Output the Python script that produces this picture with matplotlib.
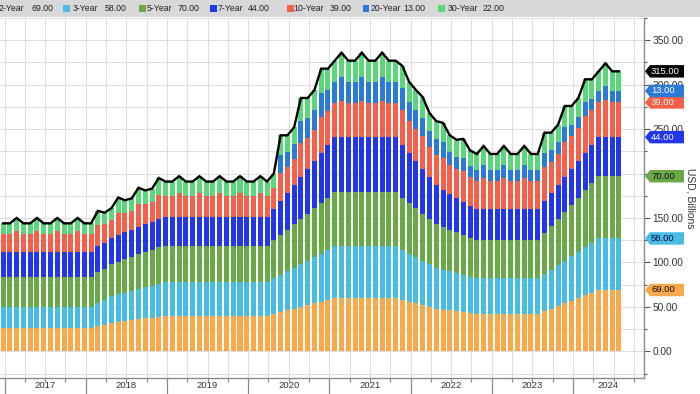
import numpy as np
import pandas as pd
import matplotlib
matplotlib.use("Agg")
import matplotlib.pyplot as plt
from matplotlib.patches import Polygon, Rectangle
from matplotlib.transforms import blended_transform_factory

plt.rcParams['font.family'] = ['Liberation Sans', 'DejaVu Sans']

# ---------------- data (USD billions, monthly auction sizes) ----------------
months = pd.period_range('2016-12', '2024-07', freq='M')

y2 = ([26] + [26] * 12
      + [26, 28, 30, 32, 33, 34, 35, 36, 37, 38, 39, 40]
      + [40] * 12
      + [40, 40, 40, 42, 44, 46, 48, 50, 52, 54, 56, 58]
      + [60] * 10 + [58, 56]
      + [54, 52, 50, 48, 47, 46, 45, 44, 43, 42, 42, 42]
      + [42] * 7 + [45, 48, 51, 54, 57]
      + [60, 63, 66, 69, 69, 69, 69])
y3 = ([24] + [24] * 12
      + [24, 26, 28, 30, 31, 32, 33, 34, 35, 36, 37, 38]
      + [38] * 12
      + [38, 38, 38, 40, 42, 44, 46, 48, 50, 52, 54, 56]
      + [58] * 10 + [56, 54]
      + [52, 50, 48, 46, 45, 44, 43, 42, 41, 40, 40, 40]
      + [40] * 7 + [42, 44, 46, 48, 50]
      + [52, 54, 56, 58, 58, 58, 58])
y5 = ([34] + [34] * 12
      + [34, 35, 35, 36, 37, 38, 38, 39, 40, 40, 41, 41]
      + [41] * 12
      + [41, 41, 41, 43, 45, 47, 49, 51, 53, 55, 57, 59]
      + [61] * 10 + [59, 57]
      + [55, 53, 51, 49, 48, 47, 46, 45, 44, 43, 43, 43]
      + [43] * 7 + [46, 49, 52, 55, 58]
      + [61, 64, 67, 70, 70, 70, 70])
y7 = ([28] + [28] * 12
      + [28, 29, 29, 29, 30, 30, 30, 31, 31, 31, 32, 32]
      + [32] * 12
      + [32, 32, 32, 35, 38, 41, 44, 47, 50, 53, 56, 59]
      + [62] * 10 + [59, 56]
      + [53, 50, 47, 44, 42, 40, 38, 37, 36, 35, 35, 35]
      + [35] * 7 + [36, 37, 38, 39, 40]
      + [41, 42, 43, 44, 44, 44, 44])
y10 = ([20]
       + [20, 23, 20, 20, 23, 20, 20, 23, 20, 20, 23, 20]
       + [20, 24, 21, 21, 25, 22, 22, 26, 23, 23, 27, 24]
       + [24, 27, 24, 24, 27, 24, 24, 27, 24, 24, 27, 24]
       + [24, 27, 24, 24, 32, 29, 29, 38, 35, 35, 41, 38]
       + [38, 41, 38, 38, 41, 38, 38, 41, 38, 38, 39, 36]
       + [36, 37, 34, 34, 36, 33, 33, 35, 32, 32, 35, 32]
       + [32, 35, 32, 32, 35, 32, 32, 38, 35, 35, 40, 37]
       + [37, 42, 39, 39, 42, 39, 39])
y20 = ([0] + [0] * 12 + [0] * 12 + [0] * 12
       + [0, 0, 0, 0, 20, 17, 17, 25, 22, 22, 27, 24]
       + [24, 27, 24, 24, 27, 24, 24, 27, 24, 24, 25, 22]
       + [22, 21, 18, 18, 17, 14, 14, 15, 12, 12, 15, 12]
       + [12, 15, 12, 12, 15, 12, 12, 16, 13, 13, 16, 13]
       + [13, 16, 13, 13, 16, 13, 13])
y30 = ([12]
       + [12, 15, 12, 12, 15, 12, 12, 15, 12, 12, 15, 12]
       + [12, 16, 13, 13, 17, 14, 14, 18, 15, 15, 19, 16]
       + [16, 19, 16, 16, 19, 16, 16, 19, 16, 16, 19, 16]
       + [16, 19, 16, 16, 22, 19, 19, 26, 23, 23, 27, 24]
       + [24, 27, 24, 24, 27, 24, 24, 27, 24, 24, 25, 22]
       + [22, 23, 20, 20, 22, 19, 19, 21, 18, 18, 21, 18]
       + [18, 21, 18, 18, 21, 18, 18, 23, 20, 20, 24, 21]
       + [21, 25, 22, 22, 25, 22, 22])

names = ['2-Year', '3-Year', '5-Year', '7-Year', '10-Year', '20-Year', '30-Year']
series = [y2, y3, y5, y7, y10, y20, y30]
colors = ['#f8a94c', '#48bce4', '#6aa84a', '#2236ec', '#f4604a', '#2c7ad8', '#5cd67a']
tag_text_colors = ['#111111', '#101040', '#111111', '#ffffff', '#fff0f0', '#ffffff', '#111111']
years = list(range(2017, 2025))
ytick_vals = [0, 50, 100, 150, 200, 250, 300, 350]

# ---------------- figure ----------------
W, H = 700, 394
fig = plt.figure(figsize=(W / 100, H / 100), dpi=100)
ax_right_px, ax_top_px, ax_bot_px = 644, 18, 378
ax = fig.add_axes([0, (H - ax_bot_px) / H, ax_right_px / W, (ax_bot_px - ax_top_px) / H])

# x position: months since Jan 2017 (month-end, shifted to auction date ~25th)
n = (months.year - 2017) * 12 + months.month
x = np.asarray(n, dtype=float) - 0.2

bottom = np.zeros(len(x))
for vals, c in zip(series, colors):
    v = np.asarray(vals, dtype=float)
    ax.bar(x, v, bottom=bottom, width=0.74, color=c, linewidth=0, zorder=2)
    bottom = bottom + v
total = bottom
ax.plot(x, total, color='black', lw=1.7, zorder=3, solid_joinstyle='miter')

ax.set_xlim(-0.665, 94.5)
ax.set_ylim(-30, 370)

# grid & ticks
ax.set_xticks(np.arange(0, 95, 12))
ax.set_xticks(np.arange(0, 95, 3), minor=True)
ax.set_yticks(ytick_vals)
ax.set_yticks(np.arange(-25, 376, 25), minor=True)
ax.grid(True, which='both', color='#dedede', lw=0.8, zorder=0)
ax.set_axisbelow(True)
ax.tick_params(axis='x', which='major', length=12, width=0.9, color='#8a8a8a', labelbottom=False)
ax.tick_params(axis='x', which='minor', length=3, width=0.8, color='#8a8a8a')
ax.yaxis.tick_right()
ax.yaxis.set_label_position('right')
ax.tick_params(axis='y', which='major', length=4, width=0.8, color='#555555',
               labelsize=7.3, labelcolor='#333333', pad=2)
ax.tick_params(axis='y', which='minor', length=2.5, width=0.8, color='#555555')
# the 200.00 label sits fully behind the 5-Year value tag in the original
ax.set_yticklabels(['' if v == 200 else f'{v:.2f}' for v in ytick_vals])
for s in ['left', 'top']:
    ax.spines[s].set_visible(False)
for s in ['bottom', 'right']:
    ax.spines[s].set_color('#8a8a8a')
    ax.spines[s].set_linewidth(1.0)

ax.set_ylabel('USD, Billions', rotation=270, fontsize=7.5, color='#333333', va='center')
ax.yaxis.set_label_coords(690 / ax_right_px, 0.5)

# year labels centred in (visible) year span
trans_xa = blended_transform_factory(ax.transData, ax.transAxes)
xmax = ax.get_xlim()[1]
for i, yr in enumerate(years):
    a = i * 12
    b = min(a + 12, xmax)
    ax.text((a + b) / 2, -0.022, str(yr), transform=trans_xa, ha='center', va='center',
            fontsize=6.8, color='#333333', clip_on=False)

# value tags on right axis
trans_fd = blended_transform_factory(fig.transFigure, ax.transData)
hh = 6.3 / 0.9  # half height in data units
x0, x1, x2 = 645 / W, 650 / W, 684 / W
tags = []
cum = 0
for vals, c, tc in zip(series, colors, tag_text_colors):
    cum += vals[-1]
    tags.append((cum, vals[-1], c, tc))
tags = tags[:-1]  # 30-year tag hidden under total tag
tags.append((total[-1], total[-1], 'black', 'white'))
for yv, lab, c, tc in tags:
    poly = Polygon([(x0, yv), (x1, yv - hh), (x2, yv - hh), (x2, yv + hh), (x1, yv + hh)],
                   closed=True, transform=trans_fd, facecolor=c, edgecolor='none',
                   clip_on=False, zorder=10)
    ax.add_artist(poly)
    ax.text(651 / W, yv, f'{lab:.2f}', transform=trans_fd, ha='left', va='center',
            fontsize=6.8, color=tc, clip_on=False, zorder=11)

# legend band at top
band_h = 17 / H
fig.patches.append(Rectangle((0, 1 - band_h), 1, band_h, transform=fig.transFigure,
                             facecolor='#d8d8d8', edgecolor='none', zorder=1))
sq_x = [-9, 63, 139, 210, 287, 363, 438]
name_x = [-1, 73, 147, 218, 293, 371, 448]
val_x = [32, 105, 178, 248, 330, 403, 483]
yc = 1 - 8.5 / H
for nm, vals, c, sx, nx, vx in zip(names, series, colors, sq_x, name_x, val_x):
    fig.patches.append(Rectangle((sx / W, yc - 3.2 / H), 6.5 / W, 6.5 / H,
                                 transform=fig.transFigure, facecolor=c, edgecolor='none', zorder=2))
    fig.text(nx / W, yc, nm, ha='left', va='center', fontsize=6.3, color='#222222', zorder=3)
    fig.text(vx / W, yc, f'{vals[-1]:.2f}', ha='left', va='center', fontsize=6.3,
             color='#222222', zorder=3)

fig.savefig('out.png', dpi=100)
